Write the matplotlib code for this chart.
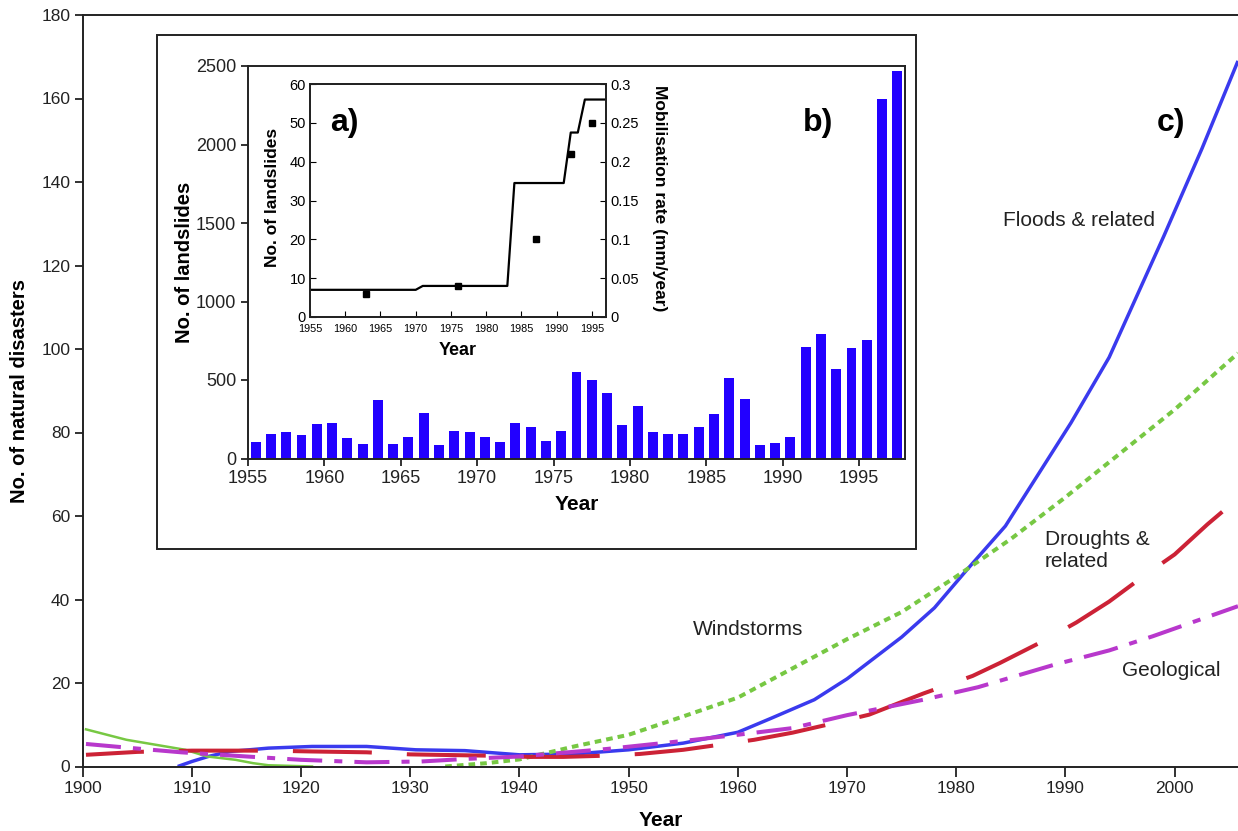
import matplotlib

matplotlib.use("Agg")
import matplotlib.pyplot as plt  # noqa: E402
from matplotlib.patches import Rectangle  # noqa: E402

plt.rcParams["font.family"] = ["Liberation Sans", "DejaVu Sans"]

# ---- c) natural disasters per year (smoothed trends) ----
flood_years = [1908.7, 1910, 1911.5, 1913.5, 1917, 1921, 1926, 1930.5, 1935, 1940, 1945, 1950,
               1955, 1960, 1963, 1967, 1970, 1975, 1978, 1981, 1984.5, 1990.5, 1994, 1999, 2002.5, 2005.8]
flood_vals = [0, 1.2, 2.4, 3.6, 4.4, 4.8, 4.8, 4.0, 3.8, 2.8, 3.0, 4.0,
              5.6, 8.2, 11.5, 16, 21, 31, 38, 47.2, 57.6, 82.3, 98, 127, 148, 169]

wind_early_years = [1900.3, 1904, 1909.4, 1911.4, 1914, 1915.6, 1917, 1921]
wind_early_vals = [8.9, 6.4, 4.0, 2.4, 1.6, 0.8, 0.3, 0]
wind_years = [1933.2, 1937, 1940, 1945, 1950, 1955, 1960, 1965, 1970, 1975, 1980, 1985,
              1990, 1995, 2000, 2005.8]
wind_vals = [0, 0.8, 1.7, 4.8, 7.6, 12, 16.5, 23.5, 30.5, 37, 45.5, 54.5,
             64.5, 75, 85.5, 99]

drought_years = [1900.3, 1905, 1910, 1917, 1921, 1926, 1930, 1937, 1941, 1944, 1948, 1951,
                 1955, 1958, 1961.5, 1965, 1968.5, 1972, 1977, 1981.5, 1984, 1988, 1991, 1994,
                 1997, 2000, 2003, 2005.8]
drought_vals = [2.8, 3.5, 3.8, 3.8, 3.6, 3.4, 2.9, 2.6, 2.3, 2.3, 2.6, 3.0,
                4.0, 5.1, 6.4, 8.1, 10.2, 12.4, 17.5, 21.7, 24.8, 30.1, 34.5, 39.5,
                45.3, 50.8, 58, 64.2]

geo_years = [1900.3, 1905, 1909, 1915, 1920, 1926, 1931, 1935, 1940, 1948, 1956, 1960, 1965,
             1970, 1977, 1982, 1989, 1994, 1998, 2005.8]
geo_vals = [5.4, 4.3, 3.4, 2.4, 1.6, 1.0, 1.2, 1.8, 2.4, 4.2, 6.4, 7.6, 9.2,
            12.3, 16, 19, 24.4, 27.8, 31.2, 38.4]

# ---- b) landslides per year ----
bar_years = list(range(1955, 1998))
landslides = [103, 158, 167, 150, 219, 228, 131, 93, 371, 93, 139, 291, 84, 177, 167, 139,
              103, 228, 203, 112, 177, 549, 498, 418, 211, 335, 167, 158, 158, 203, 282,
              511, 377, 87, 98, 136, 712, 793, 567, 703, 757, 2289, 2469]

# ---- a) cumulative landslide count (step) and mobilisation rate ----
step_years = [1955, 1970, 1971, 1983, 1984, 1991, 1992, 1993, 1994, 1997]
step_counts = [7, 7, 8, 8, 34.5, 34.5, 47.5, 47.5, 56, 56]
rate_years = [1963, 1976, 1987, 1992, 1995]
rate_vals = [0.03, 0.04, 0.10, 0.21, 0.25]
rate_ticks = [0, 0.05, 0.1, 0.15, 0.2, 0.25, 0.3]
rate_labels = ["0", "0.05", "0.1", "0.15", "0.2", "0.25", "0.3"]

W, H = 1238, 831
fig = plt.figure(figsize=(W / 100, H / 100), dpi=100)


def px_box(x0, y0, x1, y1):
    """Pixel box (top-left origin) -> figure fraction rect."""
    return [x0 / W, 1 - y1 / H, (x1 - x0) / W, (y1 - y0) / H]


INK = "#222222"

# main chart c)
ax = fig.add_axes(px_box(82.7, 15, 1238, 766.5))
ax.plot(flood_years, flood_vals, color="#3a3aee", lw=2.5, solid_capstyle="butt")
ax.plot(wind_early_years, wind_early_vals, color="#77c843", lw=1.8)
ax.plot(wind_years, wind_vals, color="#77c843", lw=2.9, ls=(0, (1.65, 1.25)))
ax.plot(drought_years, drought_vals, color="#cc2236", lw=2.9, ls=(5.2, (19.6, 8.7)))
ax.plot(geo_years, geo_vals, color="#b838cc", lw=2.9, ls=(0, (8.7, 3, 2, 3)))
ax.set_xlim(1900, 2005.8)
ax.set_ylim(0, 180)
ax.set_xticks(range(1900, 2001, 10))
ax.set_yticks(range(0, 181, 20))
ax.spines["right"].set_visible(False)
for s in ax.spines.values():
    s.set_linewidth(1.4)
    s.set_color(INK)
ax.tick_params(labelsize=12.5, width=1.3, color=INK, labelcolor=INK)
ax.tick_params(axis="x", length=7, pad=3.5)
ax.tick_params(axis="y", length=5.5)
ax.set_ylabel("No. of natural disasters", fontsize=14.5, fontweight="bold", va="center")
ax.yaxis.set_label_coords(-0.0543, 0.5)
ax.set_xlabel("Year", fontsize=15, fontweight="bold", va="center")
ax.xaxis.set_label_coords(0.5, -0.072)

lab = dict(fontsize=15, color=INK, ha="left", va="center")
ax.text(1984.3, 130.7, "Floods & related", **lab)
ax.text(1988.1, 51.7, "Droughts &\nrelated", **lab)
ax.text(1955.9, 32.9, "Windstorms", **lab)
ax.text(1995.2, 23.1, "Geological", **lab)
ax.text(1998.4, 154.1, "c)", fontsize=23, fontweight="bold", ha="left", va="center")

# inset frame
frame = Rectangle((157 / W, 1 - 549 / H), (916 - 157) / W, (549 - 35) / H,
                  transform=fig.transFigure, facecolor="white", edgecolor=INK, lw=1.4, zorder=1)
fig.patches.append(frame)

# b) bars
axb = fig.add_axes(px_box(248, 66, 905, 458.5))
axb.set_zorder(2)
axb.bar([y + 0.5 for y in bar_years], landslides, width=0.65, color="#2200ff")
axb.set_xlim(1955, 1998)
axb.set_ylim(0, 2500)
axb.set_xticks(range(1955, 1996, 5))
axb.set_yticks(range(0, 2501, 500))
for s in axb.spines.values():
    s.set_linewidth(1.4)
    s.set_color(INK)
axb.tick_params(labelsize=13, length=5, width=1.3, color=INK, labelcolor=INK)
axb.set_ylabel("No. of landslides", fontsize=14.5, fontweight="bold", va="center")
axb.yaxis.set_label_coords(-0.0959, 0.5)
axb.set_xlabel("Year", fontsize=15, fontweight="bold", va="center")
axb.xaxis.set_label_coords(0.5, -0.118)
axb.text(1991.3, 2137, "b)", fontsize=23, fontweight="bold", ha="left", va="center")

# a) step line + mobilisation rate
axa = fig.add_axes(px_box(310, 84, 606, 317))
axa.set_zorder(3)
axa.plot(step_years, step_counts, color="black", lw=1.6)
axa.set_xlim(1955, 1997)
axa.set_ylim(0, 60)
axa.set_xticks(range(1955, 1996, 5))
axa.set_yticks(range(0, 61, 10))
axa.tick_params(axis="y", labelsize=10.5, direction="in", length=4, pad=3)
axa.tick_params(axis="x", labelsize=7.8, direction="in", length=4, pad=5)
axa.set_ylabel("No. of landslides", fontsize=12.5, fontweight="bold", va="center")
axa.yaxis.set_label_coords(-0.128, 0.515)
axa.set_xlabel("Year", fontsize=13, fontweight="bold", va="center")
axa.xaxis.set_label_coords(0.5, -0.142)
axa.text(1957.8, 50, "a)", fontsize=23, fontweight="bold", ha="left", va="center")

axr = axa.twinx()
axr.set_zorder(4)
axr.plot(rate_years, rate_vals, "s", color="black", ms=4.5)
axr.set_ylim(0, 0.3)
axr.set_yticks(rate_ticks)
axr.set_yticklabels(rate_labels)
axr.tick_params(axis="y", labelsize=10.5, direction="in", length=4, pad=3)
axr.set_ylabel("Mobilisation rate (mm/year)", fontsize=12.5, fontweight="bold",
               rotation=270, va="center")
axr.yaxis.set_label_coords(1.182, 0.51)
for a in (axa, axr):
    for s in a.spines.values():
        s.set_linewidth(1.3)
        s.set_color(INK)

fig.savefig("out.png", dpi=100)
